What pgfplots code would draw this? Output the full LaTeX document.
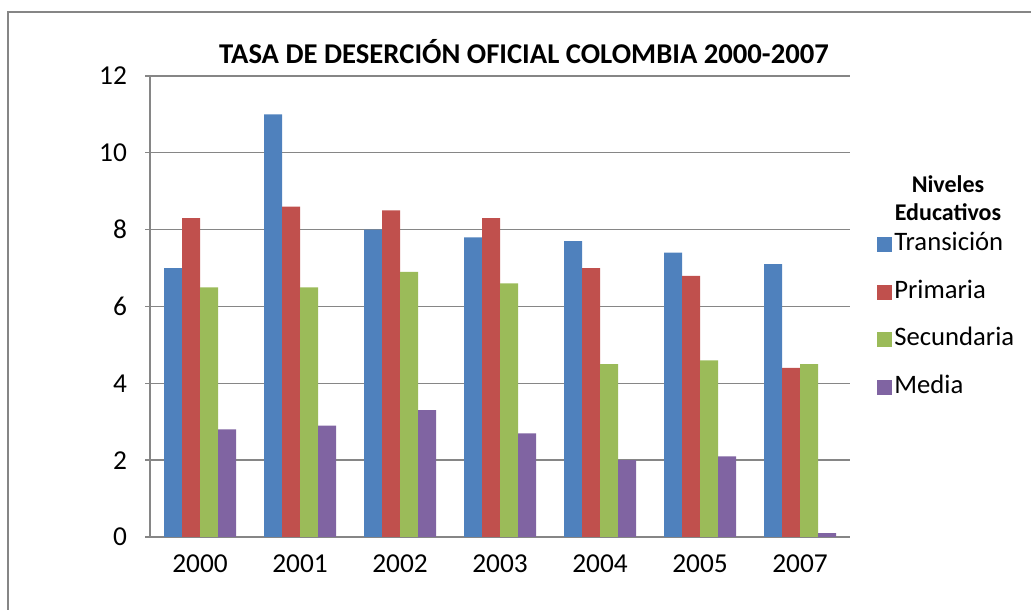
\documentclass[border=0pt]{standalone}
\usepackage{pgfplots}
\pgfplotsset{compat=1.18}
\usepackage{fontspec}
\setmainfont{Carlito}
\definecolor{cT}{HTML}{4F81BD}
\definecolor{cP}{HTML}{C0504D}
\definecolor{cS}{HTML}{9BBB59}
\definecolor{cM}{HTML}{8064A2}
\definecolor{gridc}{HTML}{868686}
\pgfplotsset{sqleg/.style={legend image code/.code={\fill[##1] (0pt,-5.6pt) rectangle (11.25pt,5.6pt);}}}
\begin{document}
\begin{tikzpicture}
\path[use as bounding box] (0,0) rectangle (773.25pt,457.5pt);
\draw[gridc, line width=1.5pt] (6pt,-20pt) -- (6pt,448.5pt) -- (800pt,448.5pt);
\begin{axis}[
  at={(112.5pt,54.75pt)}, anchor=south west,
  width=525pt, height=345.75pt, scale only axis,
  ybar=0pt, bar width=13.5pt,
  xmin=-0.5, xmax=6.5, ymin=0, ymax=12,
  xtick={0,...,6},
  xticklabels={2000,2001,2002,2003,2004,2005,2007},
  minor xtick={-0.5,0.5,...,6.5},
  ytick={0,2,...,12},
  axis x line*=bottom, axis y line*=left,
  axis line style={-, gridc, line width=1pt},
  x tick style={draw=none},
  minor x tick style={gridc, line width=1pt},
  y tick style={gridc, line width=1pt},
  tick align=outside,
  major tick length=3.75pt, minor tick length=5pt,
  ymajorgrids, grid style={gridc, line width=1pt},
  /pgf/number format/assume math mode=true,
  tick label style={font=\fontsize{20.5}{24}\selectfont, black},
  yticklabel style={xshift=-10pt},
  xticklabel style={yshift=-6pt},
  legend style={at={(1.033,0.67)}, anchor=north west, draw=none, fill=none,
    font=\fontsize{20}{23}\selectfont, row sep=15.75pt,
    nodes={text height=13pt, text depth=4pt, inner sep=1.5pt}},
  legend cell align=left,
]
\addplot[fill=cT, draw=none, sqleg] coordinates {(0,7.0) (1,11.0) (2,8.0) (3,7.8) (4,7.7) (5,7.4) (6,7.1)};
\addlegendentry{Transición}
\addplot[fill=cP, draw=none, sqleg] coordinates {(0,8.3) (1,8.6) (2,8.5) (3,8.3) (4,7.0) (5,6.8) (6,4.4)};
\addlegendentry{Primaria}
\addplot[fill=cS, draw=none, sqleg] coordinates {(0,6.5) (1,6.5) (2,6.9) (3,6.6) (4,4.5) (5,4.6) (6,4.5)};
\addlegendentry{Secundaria}
\addplot[fill=cM, draw=none, sqleg] coordinates {(0,2.8) (1,2.9) (2,3.3) (3,2.7) (4,2.0) (5,2.1) (6,0.1)};
\addlegendentry{Media}
\end{axis}
\node[font=\bfseries\fontsize{21.5}{25}\selectfont] at (393pt,418.5pt) {TASA DE DESERCIÓN OFICIAL COLOMBIA 2000-2007};
\node[font=\bfseries\fontsize{18}{21}\selectfont] at (711pt,319.5pt) {Niveles};
\node[font=\bfseries\fontsize{18}{21}\selectfont] at (711pt,298.5pt) {Educativos};
\end{tikzpicture}
\end{document}
